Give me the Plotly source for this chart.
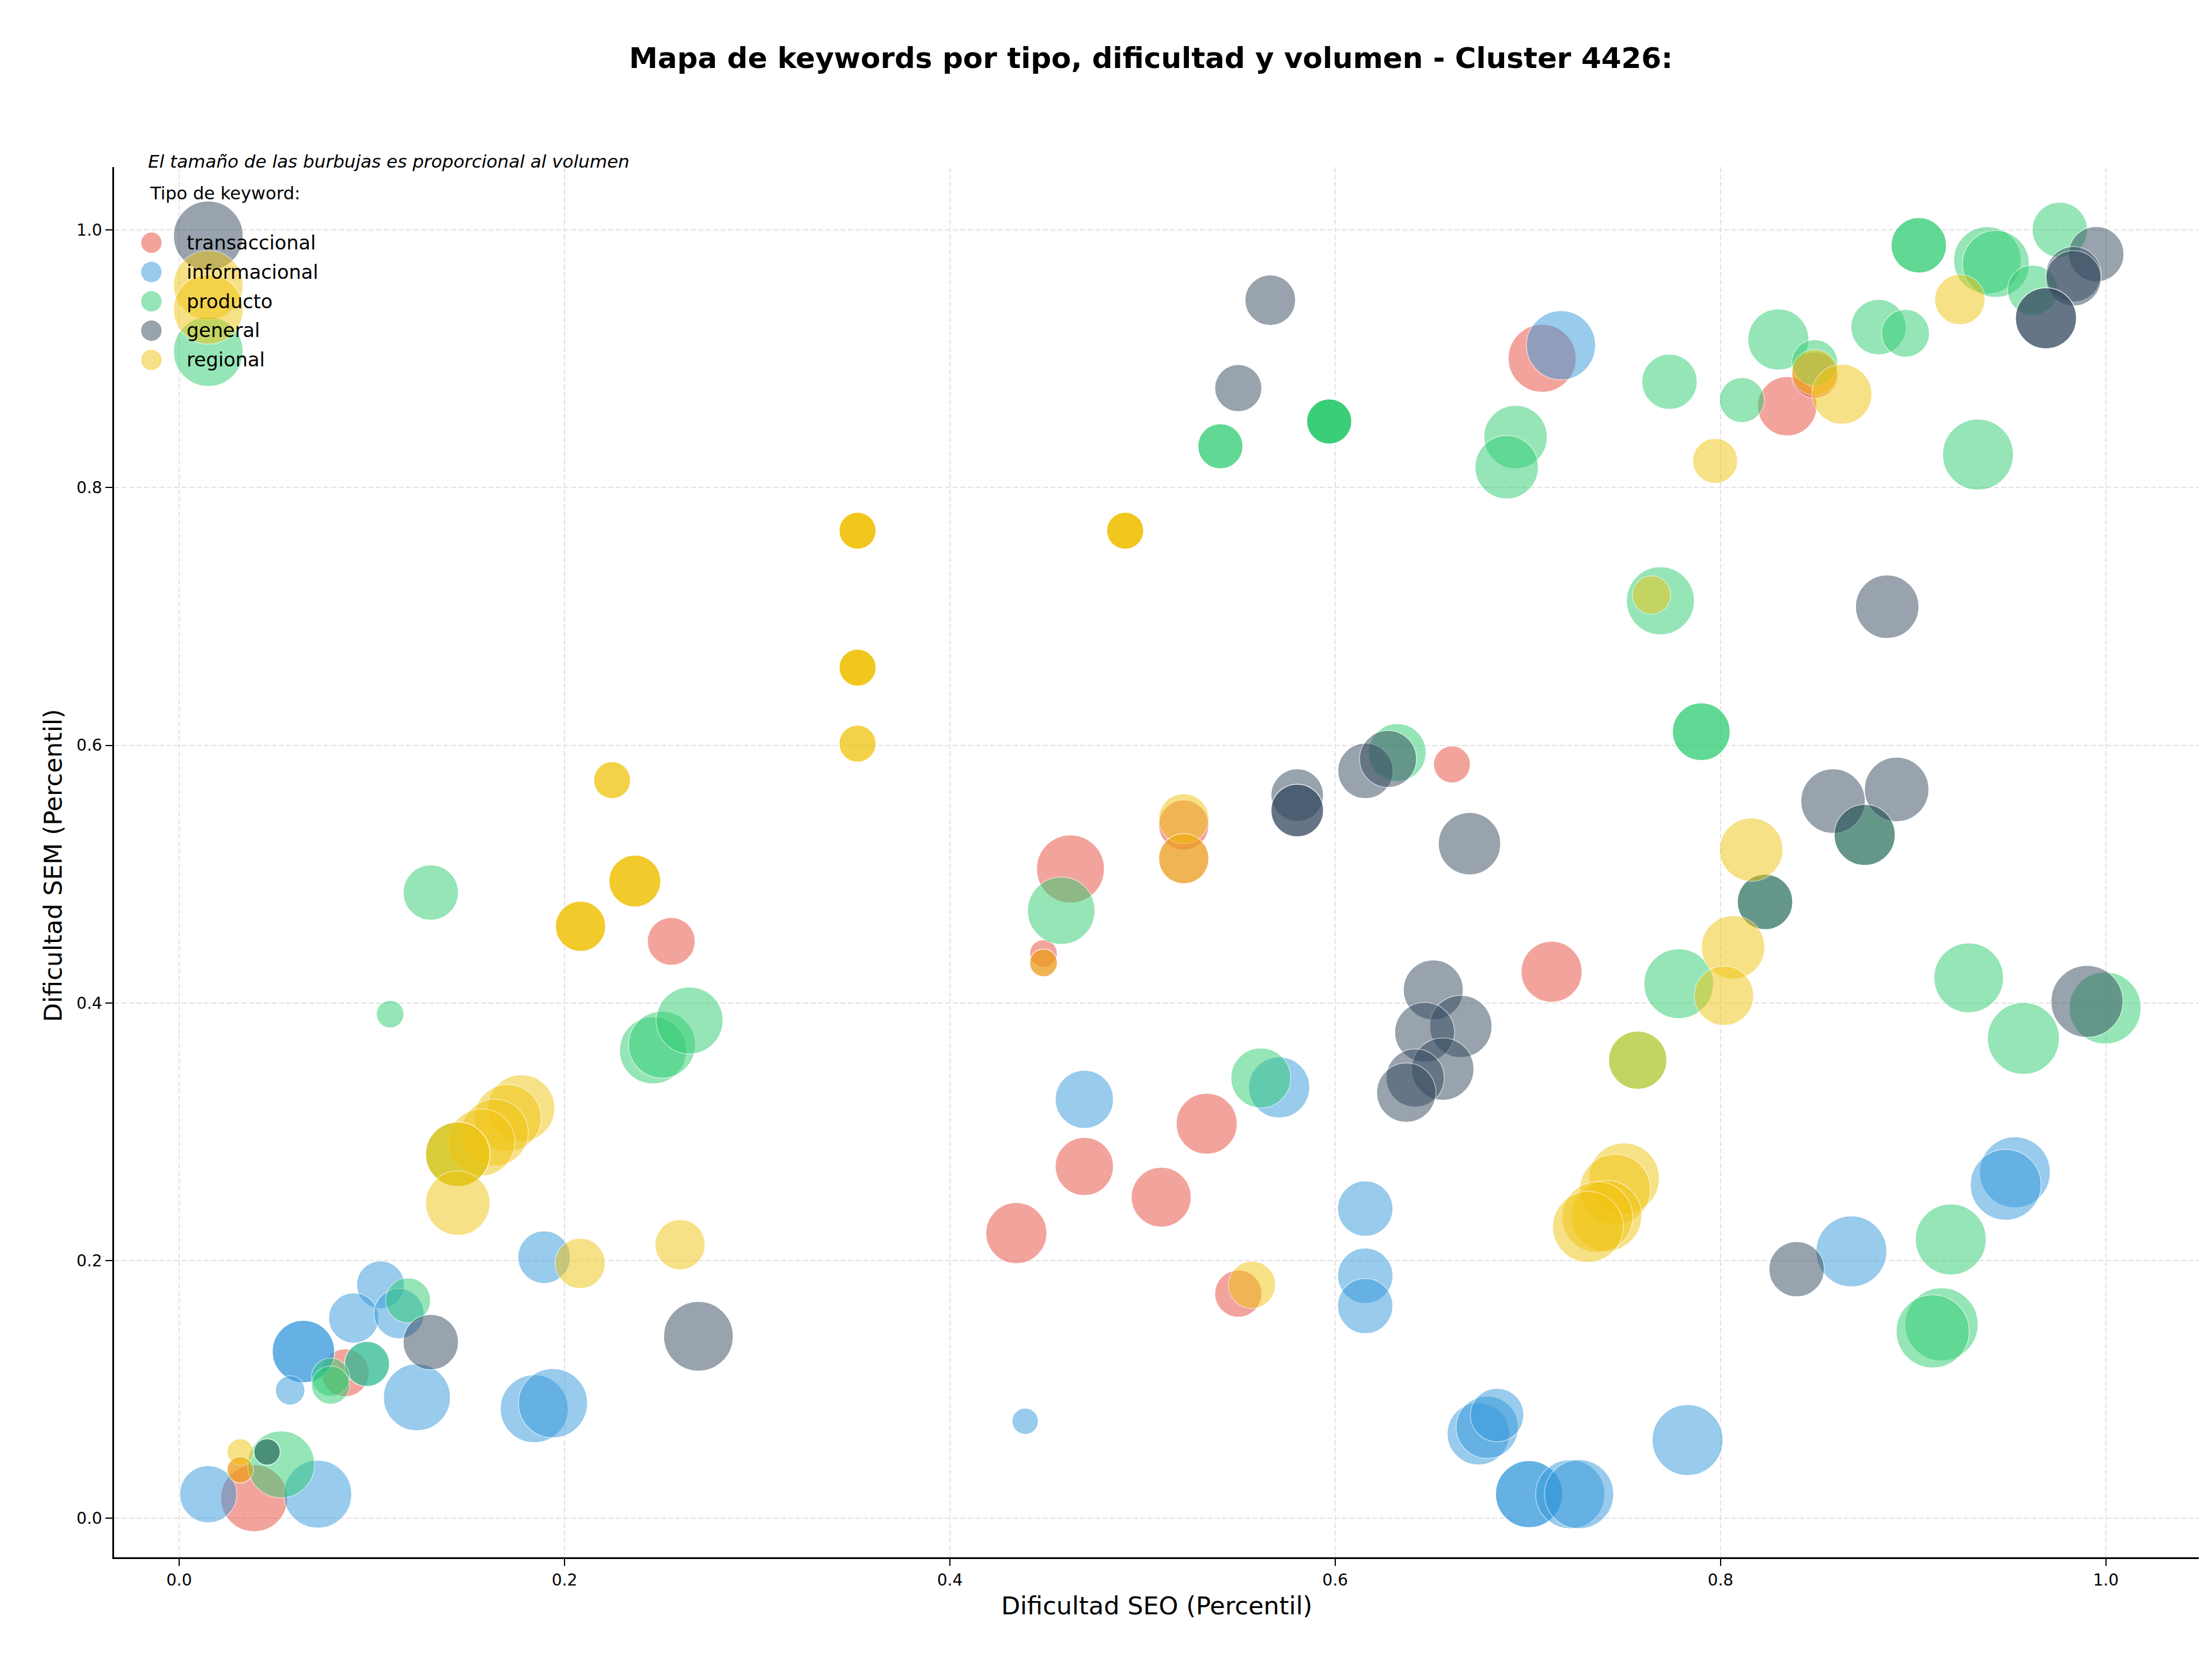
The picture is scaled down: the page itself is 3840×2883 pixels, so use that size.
import plotly.graph_objects as go

# ---------------- data ----------------
categorias = ["transaccional", "informacional", "producto", "general", "regional"]

seo_transaccional = [0.7074, 0.8346, 0.8489, 0.6606, 0.5214, 0.5214, 0.4626, 0.4486, 0.4486,
                     0.4698, 0.5097, 0.5333, 0.4345, 0.5497, 0.7123, 0.2554, 0.0862, 0.0389, 0.0317]
sem_transaccional = [0.9003, 0.8631, 0.8873, 0.5851, 0.5380, 0.5120, 0.5040, 0.4384, 0.4311,
                     0.2731, 0.2493, 0.3063, 0.2214, 0.1744, 0.4242, 0.4478, 0.1130, 0.0157, 0.0377]
vol_transaccional = [1390, 1060, 640, 410, 760, 760, 1390, 230, 230,
                     1020, 1080, 1120, 1120, 670, 1120, 690, 690, 1350, 210]

seo_informacional = [0.7172, 0.4698, 0.5709, 0.6156, 0.6156, 0.6156, 0.4391, 0.6743, 0.6789, 0.6840,
                     0.7006, 0.7006, 0.7220, 0.7266, 0.7829, 0.8679, 0.9528, 0.9480, 0.1894, 0.1234,
                     0.1843, 0.1940, 0.1045, 0.0906, 0.1141, 0.0645, 0.0645, 0.0975, 0.0576, 0.0151, 0.0719]
sem_informacional = [0.9104, 0.3252, 0.3345, 0.2404, 0.1883, 0.1648, 0.0754, 0.0657, 0.0707, 0.0802,
                     0.0188, 0.0188, 0.0188, 0.0188, 0.0608, 0.2072, 0.2686, 0.2589, 0.2027, 0.0940,
                     0.0851, 0.0894, 0.1813, 0.1555, 0.1589, 0.1295, 0.1295, 0.1199, 0.0993, 0.0188, 0.0188]
vol_informacional = [1440, 1020, 1120, 920, 920, 920, 210, 1170, 1170, 860,
                     1350, 1350, 1440, 1440, 1510, 1510, 1510, 1510, 830, 1350,
                     1390, 1440, 690, 760, 760, 1170, 1170, 610, 260, 980, 1390]

seo_producto = [0.0151, 0.5404, 0.5404, 0.5969, 0.5969, 0.5969, 0.5969, 0.6936, 0.6890, 0.7735,
                0.8111, 0.8300, 0.8489, 0.8820, 0.8960, 0.9029, 0.9029, 0.9385, 0.9429, 0.9620,
                0.9761, 0.9336, 0.7688, 0.7900, 0.7900, 0.6322, 0.8748, 0.8231, 0.4578, 0.5614,
                0.7783, 0.7570, 0.9288, 0.9572, 0.9996, 0.9195, 0.9147, 0.9101, 0.1306, 0.1095,
                0.2459, 0.2506, 0.2649, 0.1446, 0.1188, 0.0975, 0.0786, 0.0786, 0.0529, 0.0456]
sem_producto = [0.9055, 0.8320, 0.8320, 0.8513, 0.8513, 0.8513, 0.8513, 0.8392, 0.8158, 0.8821,
                0.8679, 0.9149, 0.8969, 0.9245, 0.9197, 0.9880, 0.9880, 0.9763, 0.9735, 0.9532,
                1.0000, 0.8256, 0.7121, 0.6105, 0.6105, 0.5944, 0.5304, 0.4784, 0.4716, 0.3418,
                0.4149, 0.3556, 0.4195, 0.3725, 0.3961, 0.2165, 0.1506, 0.1451, 0.4857, 0.3913,
                0.3632, 0.3676, 0.3864, 0.2826, 0.1692, 0.1199, 0.1096, 0.1034, 0.0419, 0.0516]
vol_producto = [1460, 610, 610, 610, 610, 610, 610, 1210, 1210, 920,
                610, 1120, 640, 920, 690, 920, 920, 1370, 1350, 760,
                920, 1510, 1390, 1000, 1000, 1000, 1120, 920, 1370, 1080,
                1460, 1020, 1460, 1560, 1560, 1510, 1610, 1610, 920, 230,
                1350, 1350, 1350, 1250, 610, 610, 440, 440, 1350, 210]

seo_general = [0.0151, 0.5663, 0.5497, 0.5803, 0.5803, 0.5803, 0.6157, 0.6274, 0.6697, 0.9950,
               0.9832, 0.9832, 0.9689, 0.9689, 0.8865, 0.8584, 0.8914, 0.8748, 0.8231, 0.9902,
               0.8395, 0.6509, 0.6652, 0.6464, 0.6558, 0.6415, 0.6369, 0.2695, 0.1306, 0.0456]
sem_general = [0.9953, 0.9454, 0.8772, 0.5613, 0.5494, 0.5494, 0.5801, 0.5894, 0.5236, 0.9811,
               0.9655, 0.9624, 0.9314, 0.9314, 0.7075, 0.5567, 0.5657, 0.5304, 0.4784, 0.4012,
               0.1934, 0.4101, 0.3818, 0.3773, 0.3487, 0.3418, 0.3304, 0.1413, 0.1368, 0.0516]
vol_general = [1460, 770, 670, 830, 830, 830, 920, 980, 1170, 920,
               920, 920, 1120, 1120, 1210, 1250, 1250, 1120, 920, 1560,
               920, 1080, 1170, 1080, 1170, 1020, 1060, 1460, 920, 210]

seo_regional = [0.0151, 0.0151, 0.2247, 0.2247, 0.3521, 0.3521, 0.3521, 0.3521, 0.4910, 0.4910,
                0.4910, 0.4910, 0.3521, 0.3521, 0.3521, 0.3521, 0.3521, 0.3521, 0.5214, 0.5214,
                0.4486, 0.7972, 0.8489, 0.8630, 0.9242, 0.7642, 0.8159, 0.8065, 0.8018, 0.7570,
                0.7499, 0.7453, 0.7407, 0.7361, 0.7312, 0.5568, 0.2083, 0.2083, 0.2083, 0.2365,
                0.2365, 0.2365, 0.1776, 0.1705, 0.1638, 0.1569, 0.1446, 0.1446, 0.1446, 0.2081,
                0.2600, 0.0317, 0.0317]
sem_regional = [0.9570, 0.9383, 0.5729, 0.5729, 0.7665, 0.7665, 0.7665, 0.7665, 0.7665, 0.7665,
                0.7665, 0.7665, 0.6602, 0.6602, 0.6602, 0.6602, 0.6012, 0.6012, 0.5430, 0.5120,
                0.4311, 0.8207, 0.8893, 0.8724, 0.9459, 0.7166, 0.5190, 0.4432, 0.4056, 0.3556,
                0.2639, 0.2552, 0.2348, 0.2338, 0.2262, 0.1813, 0.4595, 0.4595, 0.4595, 0.4946,
                0.4946, 0.4946, 0.3183, 0.3108, 0.2994, 0.2918, 0.2826, 0.2826, 0.2447, 0.1979,
                0.2124, 0.0516, 0.0377]
vol_regional = [1460, 1460, 410, 410, 410, 410, 410, 410, 410, 410,
                410, 410, 410, 410, 410, 410, 410, 410, 760, 760,
                230, 610, 640, 1080, 760, 440, 1210, 1210, 1060, 1020,
                1510, 1510, 1510, 1510, 1510, 670, 760, 760, 760, 810,
                810, 810, 1350, 1350, 1350, 1350, 1250, 1250, 1250, 760,
                760, 210, 210]

ticks = [0.0, 0.2, 0.4, 0.6, 0.8, 1.0]

titulo = "Mapa de keywords por tipo, dificultad y volumen - Cluster 4426:"
nota = "El tamaño de las burbujas es proporcional al volumen"
titulo_leyenda = "Tipo de keyword:"
etiqueta_x = "Dificultad SEO (Percentil)"
etiqueta_y = "Dificultad SEM (Percentil)"

# ---------------- styling ----------------
colores = {
    "transaccional": "#E74C3C",
    "informacional": "#3498DB",
    "producto": "#2ECC71",
    "general": "#34495E",
    "regional": "#F1C40F",
}
FONT = "DejaVu Sans"
W, H = 3840, 2883
L, R, T, B = 198, 3817, 290, 2703  # plot area in pixels


def px_x(px):
    return (px - L) / (R - L)


def px_y(py):
    return (B - py) / (B - T)


series = {
    "transaccional": (seo_transaccional, sem_transaccional, vol_transaccional),
    "informacional": (seo_informacional, sem_informacional, vol_informacional),
    "producto": (seo_producto, sem_producto, vol_producto),
    "general": (seo_general, sem_general, vol_general),
    "regional": (seo_regional, sem_regional, vol_regional),
}

fig = go.Figure()
for cat in categorias:
    xs, ys, vs = series[cat]
    fig.add_trace(go.Scatter(
        x=xs, y=ys, mode="markers", name=cat, showlegend=False,
        marker=dict(size=vs, sizemode="area", sizeref=0.2, color=colores[cat],
                    opacity=0.5, line=dict(color="white", width=1.5)),
    ))

axis_common = dict(
    showline=True, linecolor="black", linewidth=3, mirror=False,
    ticks="outside", ticklen=12, tickwidth=2, tickcolor="black",
    showgrid=True, gridcolor="#e3e3e3", gridwidth=2, griddash="9px,4px",
    zeroline=False, tickvals=ticks, tickformat=".1f",
    tickfont=dict(size=28, family=FONT, color="black"),
)

fig.update_layout(
    width=W, height=H,
    margin=dict(l=L, r=W - R, t=T, b=H - B, autoexpand=False),
    paper_bgcolor="white", plot_bgcolor="white",
    font=dict(family=FONT, color="black"),
    title=dict(text="<b>" + titulo + "</b>", x=px_x(1998), xref="paper", xanchor="center",
               y=1 - 100 / H, yref="container", yanchor="middle",
               font=dict(size=50, family=FONT, color="black")),
    xaxis=dict(range=[-0.0338, 1.0482], **axis_common),
    yaxis=dict(range=[-0.0302, 1.0487], **axis_common),
    showlegend=False,
)

# axis titles
fig.add_annotation(text=etiqueta_x, xref="paper", yref="paper", x=px_x(2008), y=px_y(2787),
                   xanchor="center", yanchor="middle", showarrow=False,
                   font=dict(size=43, family=FONT, color="black"))
fig.add_annotation(text=etiqueta_y, xref="paper", yref="paper", x=px_x(92), y=px_y(1502),
                   xanchor="center", yanchor="middle", showarrow=False, textangle=-90,
                   font=dict(size=43, family=FONT, color="black"))

# note
fig.add_annotation(text="<i>" + nota + "</i>", xref="paper", yref="paper", x=px_x(255), y=px_y(280),
                   xanchor="left", yanchor="middle", showarrow=False,
                   font=dict(size=31, family=FONT, color="black"))

# legend (custom, frameless)
fig.add_annotation(text=titulo_leyenda, xref="paper", yref="paper", x=px_x(258), y=px_y(335),
                   xanchor="left", yanchor="middle", showarrow=False,
                   font=dict(size=30.5, family=FONT, color="black"))
for i, cat in enumerate(categorias):
    cy = px_y(421.2 + i * 50.9)
    fig.add_shape(type="circle", xref="paper", yref="paper", xsizemode="pixel", ysizemode="pixel",
                  xanchor=px_x(262.8), yanchor=cy, x0=-18.5, x1=18.5, y0=-18.5, y1=18.5,
                  fillcolor=colores[cat], opacity=0.5, line=dict(color="white", width=1.5),
                  layer="above")
    fig.add_annotation(text=cat, xref="paper", yref="paper", x=px_x(322), y=cy,
                       xanchor="left", yanchor="middle", showarrow=False,
                       font=dict(size=33.5, family=FONT, color="black"))

fig.write_html("out.html")
